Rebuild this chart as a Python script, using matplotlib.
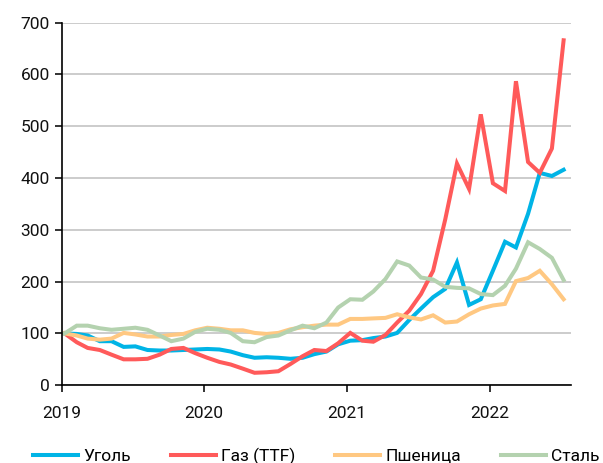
import matplotlib
matplotlib.use("Agg")
import matplotlib.pyplot as plt
import pandas as pd

# месячные индексы, январь 2019 = 100
months = pd.date_range("2019-01-01", periods=43, freq="MS") + pd.Timedelta(days=8)

coal = [100, 99, 96, 85, 85, 74, 75, 68, 67, 67, 68, 69,
        70, 69, 65, 58, 53, 54, 53, 51, 53, 60, 65, 79,
        86, 87, 91, 94, 101, 126, 148, 170, 186, 237, 155, 166,
        221, 277, 266, 331, 410, 404, 416]
gas = [100, 83, 72, 68, 59, 50, 50, 51, 59, 70, 72, 62,
       53, 45, 40, 32, 24, 25, 27, 41, 56, 68, 66, 81,
       101, 86, 84, 97, 121, 144, 176, 221, 320, 428, 379, 523,
       390, 375, 587, 431, 410, 457, 666]
wheat = [100, 96, 90, 88, 90, 101, 98, 94, 94, 97, 99, 106,
         111, 109, 106, 106, 101, 99, 101, 108, 112, 115, 117, 117,
         128, 128, 129, 130, 137, 131, 127, 135, 121, 123, 137, 148,
         154, 157, 201, 207, 221, 195, 166]
steel = [100, 115, 115, 110, 107, 109, 111, 107, 96, 85, 90, 103,
         109, 107, 101, 85, 83, 93, 96, 106, 115, 110, 121, 150,
         166, 165, 181, 205, 239, 231, 208, 204, 190, 188, 187, 176,
         174, 192, 225, 276, 263, 246, 203]

labels = ["Уголь", "Газ (TTF)", "Пшеница", "Сталь"]
colors = ["#00B4E6", "#FF5A5A", "#FFC882", "#B4D2AF"]
years = ["2019", "2020", "2021", "2022"]

plt.rcParams["font.family"] = ["Roboto", "DejaVu Sans"]

fig = plt.figure(figsize=(6.03, 4.63), dpi=100)
ax = fig.add_axes([0.102, 0.168, 0.845, 0.783])

for s, lab, c in zip([coal, gas, wheat, steel], labels, colors):
    ax.plot(months, s, color=c, lw=2.9, label=lab, solid_joinstyle="miter")

ax.set_ylim(0, 700)
ax.set_yticks(range(0, 701, 100))
ax.set_xlim(pd.Timestamp("2019-01-01"), pd.Timestamp("2022-07-28"))
ax.set_xticks([pd.Timestamp(y + "-01-01") for y in years])
ax.set_xticklabels(years)

ax.grid(axis="y", color="#C4C4C4", lw=1.2)
ax.set_axisbelow(True)
for sp in ["top", "right"]:
    ax.spines[sp].set_visible(False)
ax.spines["left"].set_linewidth(1.2)
ax.spines["bottom"].set_linewidth(1.2)
ax.tick_params(axis="both", labelsize=12.5, colors="#111111", width=1.2, length=5)
ax.tick_params(axis="x", pad=10)

ax.legend(loc="center", bbox_to_anchor=(0.5, -0.195), ncol=4, frameon=False,
          fontsize=12.5, handlelength=2.6, columnspacing=2.3, handletextpad=0.3,
          borderaxespad=0, borderpad=0)

fig.savefig("out.png", dpi=100)
